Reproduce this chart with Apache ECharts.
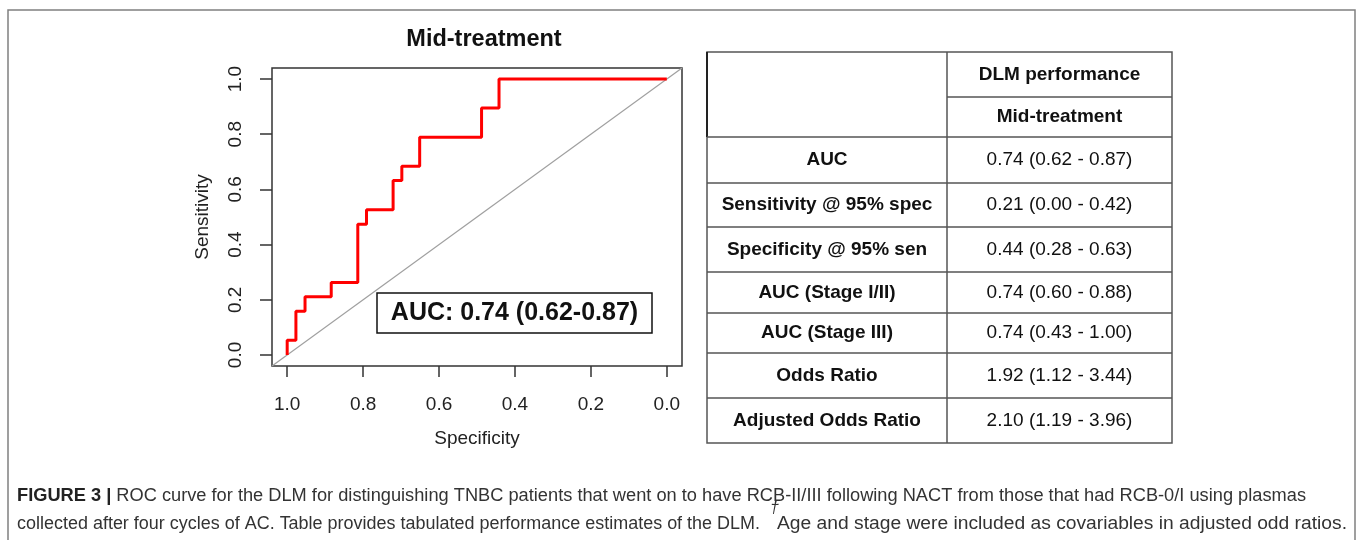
<!DOCTYPE html>
<html><head><meta charset="utf-8">
<script src="https://cdn.jsdelivr.net/npm/echarts@6/dist/echarts.min.js"></script>
<style>html,body{margin:0;padding:0;background:#fff}#c{width:1358px;height:540px}</style>
</head><body><div id="c"></div>
<script>
// ROC curve points (specificity, sensitivity)
const specificity = [1, 1, 0.977, 0.977, 0.953, 0.953, 0.884, 0.884, 0.814, 0.814, 0.791, 0.791, 0.721, 0.721, 0.698, 0.698, 0.651, 0.651, 0.488, 0.488, 0.442, 0.442, 0];
const sensitivity = [0, 0.053, 0.053, 0.158, 0.158, 0.211, 0.211, 0.263, 0.263, 0.474, 0.474, 0.526, 0.526, 0.632, 0.632, 0.684, 0.684, 0.789, 0.789, 0.895, 0.895, 1, 1];
const chanceLine = [-0.04, 1.04];
const tickValues = [0, 0.2, 0.4, 0.6, 0.8, 1.0];
const tickLabels = ['0.0', '0.2', '0.4', '0.6', '0.8', '1.0'];
const chartTitle = 'Mid-treatment';
const aucLabel = 'AUC: 0.74 (0.62-0.87)';
const tableHeader = ['DLM performance', 'Mid-treatment'];
const tableRows = ['AUC', 'Sensitivity @ 95% spec', 'Specificity @ 95% sen', 'AUC (Stage I/II)', 'AUC (Stage III)', 'Odds Ratio', 'Adjusted Odds Ratio'];
const tableValues = ['0.74 (0.62 - 0.87)', '0.21 (0.00 - 0.42)', '0.44 (0.28 - 0.63)', '0.74 (0.60 - 0.88)', '0.74 (0.43 - 1.00)', '1.92 (1.12 - 3.44)', '2.10 (1.19 - 3.96)'];
const captionBold = 'FIGURE 3 |';
const captionLine1 = ' ROC curve for the DLM for distinguishing TNBC patients that went on to have RCB-II/III following NACT from those that had RCB-0/I using plasmas';
const captionLine2a = 'collected after four cycles of AC. Table provides tabulated performance estimates of the DLM.';
const captionDagger = '†';
const captionLine2b = 'Age and stage were included as covariables in adjusted odd ratios.';

const FF = '"Liberation Sans", Arial, sans-serif';
const CF = '"Liberation Sans", Arial, sans-serif';
const capSize = 18.3;

const ctx = document.createElement('canvas').getContext('2d');
function tw(t, font) { ctx.font = font; return ctx.measureText(t).width; }

// table layout
const colX = [707, 947, 1172];
const rowY = [52, 97, 137, 183, 227, 272, 313, 353, 398, 443];
const lineC = '#555';
const g = [];
// outer frame
g.push({ type: 'polyline', shape: { points: [[8, 545], [8, 10], [1355, 10], [1355, 545]] }, style: { stroke: '#808080', lineWidth: 1.5, fill: null } });
// table
g.push({ type: 'rect', shape: { x: colX[0], y: rowY[0], width: colX[2] - colX[0], height: rowY[rowY.length - 1] - rowY[0] }, style: { stroke: lineC, lineWidth: 1.5, fill: null } });
g.push({ type: 'line', shape: { x1: colX[0], y1: rowY[0], x2: colX[0], y2: rowY[2] }, style: { stroke: '#222', lineWidth: 2 } });
g.push({ type: 'line', shape: { x1: colX[1], y1: rowY[0], x2: colX[1], y2: rowY[rowY.length - 1] }, style: { stroke: lineC, lineWidth: 1.5 } });
g.push({ type: 'line', shape: { x1: colX[1], y1: rowY[1], x2: colX[2], y2: rowY[1] }, style: { stroke: lineC, lineWidth: 1.5 } });
for (let i = 2; i < rowY.length - 1; i++) {
  g.push({ type: 'line', shape: { x1: colX[0], y1: rowY[i], x2: colX[2], y2: rowY[i] }, style: { stroke: lineC, lineWidth: 1.5 } });
}
const c1 = (colX[0] + colX[1]) / 2, c2 = (colX[1] + colX[2]) / 2;
tableHeader.forEach((h, i) => {
  g.push({ type: 'text', style: { text: h, x: c2, y: (rowY[i] + rowY[i + 1]) / 2, align: 'center', verticalAlign: 'middle', font: 'bold 19px ' + FF, fill: '#111' } });
});
tableRows.forEach((r, i) => {
  const yc = (rowY[i + 2] + rowY[i + 3]) / 2;
  g.push({ type: 'text', style: { text: r, x: c1, y: yc, align: 'center', verticalAlign: 'middle', font: 'bold 19px ' + FF, fill: '#111' } });
  g.push({ type: 'text', style: { text: tableValues[i], x: c2, y: yc, align: 'center', verticalAlign: 'middle', font: '19px ' + FF, fill: '#111' } });
});
// AUC box
g.push({ type: 'rect', z: 10, shape: { x: 377, y: 293, width: 275, height: 40 }, style: { stroke: '#111', lineWidth: 1.5, fill: '#fff' } });
g.push({ type: 'text', z: 11, style: { text: aucLabel, x: 514.5, y: 313, align: 'center', verticalAlign: 'middle', font: 'bold 25px ' + FF, fill: '#111' } });

// caption: each segment is fitted horizontally to the span it covers in the reference
const capBoldFont = 'bold ' + capSize + 'px ' + CF;
const capFont = capSize + 'px ' + CF;
const dagFont = 'italic 16px ' + CF;
function seg(text, font, x, y, sx, fill) {
  g.push({ type: 'text', x: x, y: y, scaleX: sx, style: { text: text, x: 0, y: 0, verticalAlign: 'middle', font: font, fill: fill } });
}
const cx0 = 17;
const wB = tw(captionBold, capBoldFont), w1 = tw(captionLine1, capFont);
const s1 = (1306 - cx0) / (wB + w1);
seg(captionBold, capBoldFont, cx0, 496, s1, '#222');
seg(captionLine1, capFont, cx0 + wB * s1, 496, s1, '#333');
const s2a = (760 - cx0) / tw(captionLine2a, capFont);
seg(captionLine2a, capFont, cx0, 524, s2a, '#333');
seg(captionDagger, dagFont, 770, 509, 1, '#333');
const s2b = (1347 - 777) / tw(captionLine2b, capFont);
seg(captionLine2b, capFont, 777, 524, s2b, '#333');

const chart = echarts.init(document.getElementById('c'), null, { renderer: 'canvas' });
chart.setOption({
  animation: false,
  backgroundColor: '#fff',
  title: { text: chartTitle, left: 479, top: 23, textAlign: 'center', textStyle: { fontFamily: FF, fontWeight: 'bold', fontSize: 23.5, color: '#111' } },
  grid: { left: 272, top: 68, width: 410, height: 298, show: true, borderColor: '#333', borderWidth: 1.5, backgroundColor: 'transparent' },
  xAxis: {
    type: 'value', min: -0.04, max: 1.04, inverse: true, position: 'bottom',
    axisLine: { show: false, onZero: false }, splitLine: { show: false },
    axisTick: { show: true, inside: false, length: 11, lineStyle: { color: '#333', width: 1.5 }, customValues: tickValues },
    axisLabel: { customValues: tickValues, formatter: v => tickLabels[Math.round(v * 5)], fontFamily: FF, fontSize: 19, color: '#222', margin: 29 },
    name: 'Specificity', nameLocation: 'middle', nameGap: 63, nameTextStyle: { fontFamily: FF, fontSize: 19, color: '#222' }
  },
  yAxis: {
    type: 'value', min: -0.04, max: 1.04, position: 'left',
    axisLine: { show: false, onZero: false }, splitLine: { show: false },
    axisTick: { show: true, inside: false, length: 12, lineStyle: { color: '#333', width: 1.5 }, customValues: tickValues },
    axisLabel: { customValues: tickValues, formatter: v => tickLabels[Math.round(v * 5)], rotate: 90, fontFamily: FF, fontSize: 19, color: '#222', margin: 27 },
    name: 'Sensitivity', nameLocation: 'middle', nameRotate: 90, nameGap: 60, nameTextStyle: { fontFamily: FF, fontSize: 19, color: '#222' }
  },
  series: [
    { type: 'line', data: chanceLine.map(v => [1 - v, v]), showSymbol: false, lineStyle: { color: '#a0a0a0', width: 1.2 }, silent: true, z: 1 },
    { type: 'line', data: specificity.map((s, i) => [s, sensitivity[i]]), showSymbol: false, lineStyle: { color: '#ff0000', width: 3 }, silent: true, z: 2 }
  ],
  graphic: g
});
</script></body></html>
